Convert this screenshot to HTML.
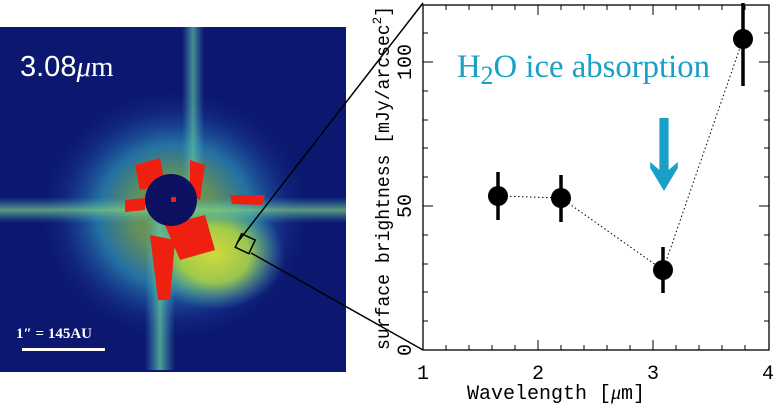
<!DOCTYPE html>
<html><head><meta charset="utf-8"><style>
html,body{margin:0;padding:0;background:#fff;}
svg{display:block;}
</style></head><body>
<svg width="777" height="405" viewBox="0 0 777 405" xmlns="http://www.w3.org/2000/svg">
<defs>
<radialGradient id="glow" cx="0.5" cy="0.5" r="0.5">
<stop offset="0" stop-color="#c8dc30"/>
<stop offset="0.3" stop-color="#90d050"/>
<stop offset="0.55" stop-color="#30a0c0"/>
<stop offset="0.8" stop-color="#1a3c98" stop-opacity="0.6"/>
<stop offset="1" stop-color="#0a1468" stop-opacity="0"/>
</radialGradient>
<radialGradient id="glow2" cx="0.5" cy="0.5" r="0.5">
<stop offset="0" stop-color="#e8e830"/>
<stop offset="0.5" stop-color="#b0d840"/>
<stop offset="1" stop-color="#40b0c0" stop-opacity="0"/>
</radialGradient>
<linearGradient id="spikeV" x1="0" x2="1">
<stop offset="0" stop-color="#40b0c0" stop-opacity="0"/>
<stop offset="0.5" stop-color="#60c0a0"/>
<stop offset="1" stop-color="#40b0c0" stop-opacity="0"/>
</linearGradient>
<linearGradient id="spikeH" x1="0" x2="0" y1="0" y2="1">
<stop offset="0" stop-color="#40b0c0" stop-opacity="0"/>
<stop offset="0.5" stop-color="#80d080"/>
<stop offset="1" stop-color="#40b0c0" stop-opacity="0"/>
</linearGradient>
</defs>
<rect x="0" y="27" width="346" height="345" fill="#0c1870"/>
<ellipse cx="175" cy="215" rx="140" ry="130" fill="url(#glow)" opacity="0.65"/>
<ellipse cx="215" cy="255" rx="70" ry="55" fill="url(#glow2)" opacity="0.85"/>
<rect x="0" y="197" width="346" height="26" fill="url(#spikeH)" opacity="0.7"/>
<rect x="182" y="27" width="22" height="170" fill="url(#spikeV)" opacity="0.7"/>
<rect x="145" y="220" width="30" height="150" fill="url(#spikeV)" opacity="0.8"/>
<path d="M135 165 L160 158 L165 185 L140 190Z M190 160 L205 165 L200 200 L190 195Z M165 225 L205 215 L215 250 L180 260Z M150 235 L175 240 L170 300 L158 300Z M125 200 L145 198 L145 210 L125 212Z M230 195 L265 195 L262 205 L232 204Z" fill="#f02010"/>
<circle cx="171" cy="200" r="26" fill="#0c1060"/>
<rect x="171" y="197" width="5" height="5" fill="#f02010"/>
<text x="20" y="76" font-family="Liberation Sans, sans-serif" font-size="29" fill="#fff">3.08<tspan font-family="Liberation Serif, serif" font-style="italic">μ</tspan><tspan font-family="Liberation Serif, serif">m</tspan></text>
<text x="16" y="338" font-family="Liberation Serif, serif" font-size="15" font-weight="bold" fill="#fff">1″ = 145AU</text>
<rect x="22" y="348" width="83" height="3" fill="#fff"/>
<rect x="238" y="236" width="15" height="15" fill="none" stroke="#000" stroke-width="1.5" transform="rotate(25 245 243)"/>
<line x1="237" y1="243" x2="423" y2="3" stroke="#000" stroke-width="1.5"/>
<line x1="251" y1="253" x2="423" y2="350" stroke="#000" stroke-width="1.5"/>
<rect x="423" y="5" width="346" height="345" fill="none" stroke="#000" stroke-width="1.3"/>
<g stroke="#000" stroke-width="1">
<path d="M446 350v-5M469 350v-5M492 350v-5M515 350v-5M561 350v-5M584 350v-5M607 350v-5M630 350v-5M676 350v-5M699 350v-5M722 350v-5M745 350v-5
M538 350v-10M653 350v-10
M446 5v5M469 5v5M492 5v5M515 5v5M561 5v5M584 5v5M607 5v5M630 5v5M676 5v5M699 5v5M722 5v5M745 5v5
M538 5v10M653 5v10
M423 321h5M423 292h5M423 264h5M423 235h5M423 177h5M423 148h5M423 120h5M423 91h5M423 33h5
M423 206h10M423 62h10
M769 321h-5M769 292h-5M769 264h-5M769 235h-5M769 177h-5M769 148h-5M769 120h-5M769 91h-5M769 33h-5
M769 206h-10M769 62h-10"/>
</g>
<g font-family="Liberation Mono, monospace" font-size="20" fill="#000" text-anchor="middle">
<text x="423" y="379">1</text><text x="538" y="379">2</text><text x="653" y="379">3</text><text x="768" y="379">4</text>
<text x="556" y="399">Wavelength [<tspan font-family="Liberation Serif, serif" font-style="italic">μ</tspan>m]</text>
<text transform="translate(411 350) rotate(-90)">0</text>
<text transform="translate(411 206) rotate(-90)">50</text>
<text transform="translate(411 62) rotate(-90)">100</text>
</g>
<text transform="translate(389 350) rotate(-90)" x="0" y="0" font-family="Liberation Mono, monospace" font-size="19" fill="#000" textLength="344" lengthAdjust="spacingAndGlyphs">surface brightness [mJy/arcsec<tspan font-size="13" dy="-8">2</tspan><tspan dy="8">]</tspan></text>
<polyline points="498,196 561,198 663,270 743,39" fill="none" stroke="#000" stroke-width="1" stroke-dasharray="1.5,2.5"/>
<g stroke="#000" stroke-width="3.5">
<line x1="498" y1="172" x2="498" y2="220"/>
<line x1="561" y1="175" x2="561" y2="222"/>
<line x1="663" y1="247" x2="663" y2="293"/>
<line x1="743" y1="3" x2="743" y2="86"/>
</g>
<g fill="#000">
<circle cx="498" cy="196" r="10"/>
<circle cx="561" cy="198" r="10"/>
<circle cx="663" cy="270" r="10"/>
<circle cx="743" cy="39" r="10"/>
</g>
<text x="457" y="77" font-family="Liberation Serif, serif" font-size="33" fill="#18a0c8" textLength="253" lengthAdjust="spacingAndGlyphs">H<tspan font-size="26" dy="7">2</tspan><tspan dy="-7">O ice absorption</tspan></text>
<path d="M660 118h8v52l8-8v6l-12 23l-12-23v-6l8 8z" fill="#18a0c8" transform="translate(664 0) scale(1.15 1) translate(-664 0)"/>
</svg>
</body></html>
